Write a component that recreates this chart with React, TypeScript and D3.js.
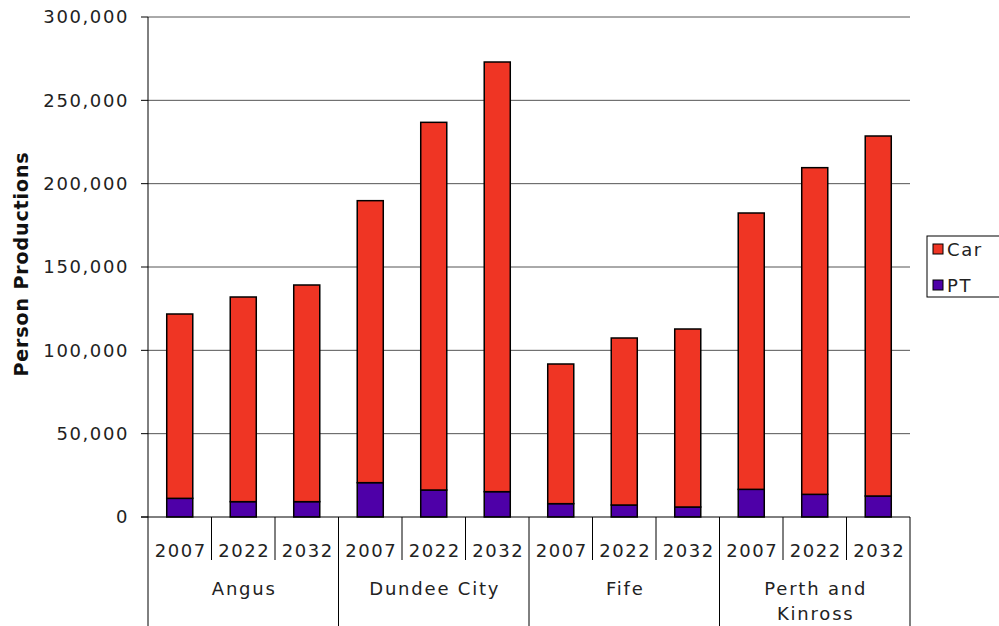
import React from "react";
import * as d3 from "d3";

const districts = ["Angus", "Dundee City", "Fife", "Perth and Kinross"];
const years = ["2007", "2022", "2032"];
// PT (bottom) and Car (top) person productions, per district x year
const ptValues = [
	[11200, 9200, 9200],
	[20600, 16200, 15200],
	[8000, 7200, 6000],
	[16600, 13600, 12600],
];
const carValues = [
	[110600, 122800, 130000],
	[169200, 220600, 257800],
	[83800, 100200, 106800],
	[165800, 196000, 216000],
];
const yTicks = [0, 50000, 100000, 150000, 200000, 250000, 300000];
const seriesKeys = ["PT", "Car"];
const legendKeys = ["Car", "PT"];
const colors: Record<string, string> = { Car: "#EF3524", PT: "#4E00A8" };

const font = "'DejaVu Sans', Verdana, sans-serif";

export default function App() {
	const left = 148;
	const right = 910;
	const top = 17;
	const bottom = 517;

	const x0 = d3.scaleBand().domain(districts).range([left, right]);
	const x1 = d3
		.scaleBand()
		.domain(years)
		.range([0, x0.bandwidth()])
		.paddingInner(0.59)
		.paddingOuter(0.295);
	const y = d3.scaleLinear().domain([0, 300000]).range([bottom, top]);
	const fmt = d3.format(",");

	const rows = districts.flatMap((d, i) =>
		years.map((yr, j) => ({
			district: d,
			year: yr,
			PT: ptValues[i][j],
			Car: carValues[i][j],
		}))
	);
	const stacked = d3.stack<any>().keys(seriesKeys)(rows);
	const yearStep = x0.bandwidth() / years.length;

	return (
		<svg
			width={999}
			height={626}
			style={{ position: "absolute", left: 0, top: 0, background: "#fff" }}
			fontFamily={font}
		>
			{/* gridlines */}
			{yTicks.map((t) => (
				<g key={t}>
					{t > 0 && (
						<line x1={left} x2={right} y1={y(t)} y2={y(t)} stroke="#555" strokeWidth={1} />
					)}
					<line x1={left - 7} x2={left} y1={y(t)} y2={y(t)} stroke="#000" />
					<text
						x={left - 19}
						y={y(t)}
						dy="0.36em"
						textAnchor="end"
						fontSize={18}
						letterSpacing={1.6}
						fill="#222"
					>
						{fmt(t)}
					</text>
				</g>
			))}

			{/* bars */}
			{stacked.map((s) => (
				<g key={s.key} fill={colors[s.key]}>
					{s.map((d: any, i: number) => (
						<rect
							key={i}
							x={(x0(d.data.district) ?? 0) + (x1(d.data.year) ?? 0)}
							y={y(d[1])}
							width={x1.bandwidth()}
							height={y(d[0]) - y(d[1])}
							stroke="#000"
							strokeWidth={1.5}
						/>
					))}
				</g>
			))}

			{/* axes */}
			<line x1={left} x2={left} y1={top} y2={626} stroke="#000" />
			<line x1={left - 7} x2={right} y1={bottom} y2={bottom} stroke="#000" />

			{/* category axis */}
			{districts.map((d) => {
				const gx = x0(d) ?? 0;
				const words = d === "Perth and Kinross" ? ["Perth and", "Kinross"] : [d];
				return (
					<g key={d}>
						<line x1={gx + x0.bandwidth()} x2={gx + x0.bandwidth()} y1={bottom} y2={626} stroke="#000" />
						{years.map((yr, j) => (
							<g key={yr}>
								{j > 0 && (
									<line
										x1={gx + j * yearStep}
										x2={gx + j * yearStep}
										y1={bottom}
										y2={560}
										stroke="#000"
									/>
								)}
								<text
									x={gx + (x1(yr) ?? 0) + x1.bandwidth() / 2 + 1}
									y={557}
									textAnchor="middle"
									fontSize={18}
									letterSpacing={1.6}
									fill="#222"
								>
									{yr}
								</text>
							</g>
						))}
						{words.map((w, k) => (
							<text
								key={w}
								x={gx + x0.bandwidth() / 2 + 1}
								y={595 + k * 25}
								textAnchor="middle"
								fontSize={18}
								letterSpacing={1.8}
								fill="#222"
							>
								{w}
							</text>
						))}
					</g>
				);
			})}

			{/* y axis title */}
			<text
				transform={`translate(28,264) rotate(-90)`}
				textAnchor="middle"
				fontSize={19}
				fontWeight="bold"
				letterSpacing={0.9}
				fill="#111"
			>
				Person Productions
			</text>

			{/* legend */}
			<rect x={927} y={236} width={80} height={61} fill="#fff" stroke="#000" />
			{legendKeys.map((k, i) => (
				<g key={k} transform={`translate(933,${244 + i * 36})`}>
					<rect width={10} height={10} fill={colors[k]} stroke="#000" />
					<text x={14} y={5} dy="0.38em" fontSize={18} letterSpacing={1.6} fill="#222">
						{k}
					</text>
				</g>
			))}
		</svg>
	);
}
